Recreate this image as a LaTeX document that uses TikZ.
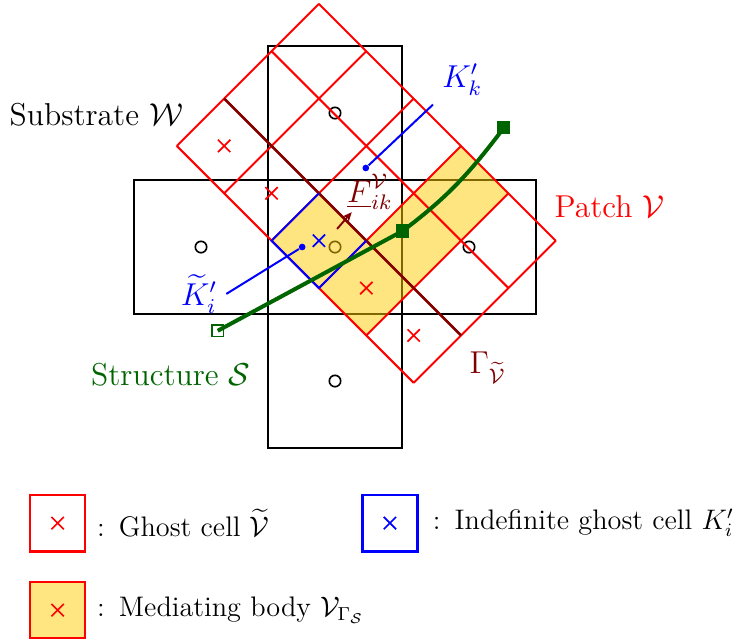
\documentclass[tikz,border=0pt]{standalone}
\usepackage{amsmath,amssymb}
\usepackage{xcolor}
\usepackage{tikz}
\usetikzlibrary{arrows.meta,positioning,calc,shapes.misc}
\definecolor{bodyyellow}{RGB}{255,204,0}
\definecolor{structgreen}{RGB}{0,100,0}
\definecolor{gammared}{RGB}{128,0,0}

\begin{document}
\begin{tikzpicture}[
    substrate/.style={draw=black, line width=1pt},
    centre/.style={circle, draw=black, line width=0.7pt, minimum size=0.17cm, inner sep=0pt},
    ghostmark/.style={cross out, draw=red, line width=0.7pt, minimum size=0.16cm, inner sep=0pt},
    indefmark/.style={ghostmark, draw=blue},
    patchgrid/.style={draw=red, line width=0.85pt},
    gammaline/.style={draw=gammared, line width=1.1pt},
    mediating/.style={fill=bodyyellow, fill opacity=0.5},
    leader/.style={draw=blue, line width=0.85pt},
    leaddot/.style={circle, fill=blue, minimum size=0.1cm, inner sep=0pt},
    structline/.style={draw=structgreen, line width=1.7pt},
    endmark/.style={rectangle, draw=structgreen, line width=0.8pt, minimum size=0.17cm, inner sep=0pt},
    tag/.style={font=\large, scale=1.12, transform shape},
    legendbox/.style={rectangle, line width=1.1pt, minimum width=0.82cm, minimum height=0.84cm},
    legendtext/.style={anchor=west, font=\large}
]
\useasboundingbox (-5,-5.836) rectangle (5.97,3.687);

\draw[substrate] (-1,-3) rectangle (1,3);
\draw[substrate] (-3,-1) rectangle (3,1);

\node[centre] (ctop) at (0,2) {};
\node[centre] (cleft) at (-2,0) {};
\node[centre] (cmid) at (0,0) {};
\node[centre] (cright) at (2,0) {};
\node[centre] (cbottom) at (0,-2) {};

\begin{scope}[shift={(-0.24,3.63)}, rotate=-45]
\fill[mediating] (3,0) -- (4,0) -- (4,-3) -- (2,-3) -- (2,-2) -- (3,-2) -- cycle;
\draw[patchgrid] (0,-3) grid (5,0);
\draw[gammaline] (0,-2) -- (5,-2);
\draw[leader] (3,-2) -- (3,-3) -- (2,-3) -- (2,-2);
\node[ghostmark] (g0) at (0.5,-2.5) {};
\node[ghostmark] (g1) at (1.5,-2.5) {};
\node[indefmark] (g2) at (2.5,-2.5) {};
\node[ghostmark] (g3) at (3.5,-2.5) {};
\node[ghostmark] (g4) at (4.5,-2.5) {};
\end{scope}

\node[tag] (substrate) at (-3.56,1.97) {Substrate $\mathcal{W}$};
\node[tag, text=red] (patch) at (4.1,0.6) {Patch $\mathcal{V}$};
\node[tag, text=structgreen] (structure) at (-2.45,-1.91) {Structure $\mathcal{S}$};
\node[tag, text=gammared] (gamma) at (2.28,-1.8) {$\Gamma_{\widetilde{\mathcal{V}}}$};

\node[tag, text=blue] (kk) at (1.9,2.5) {$K'_k$};
\node[leaddot] (dk) at (0.46,1.18) {};
\draw[leader] (dk) -- (kk.south west);

\node[tag, text=blue] (ki) at (-2.03,-0.7) {$\widetilde{K}'_i$};
\node[leaddot] (di) at (-0.49,0) {};
\draw[leader] (di) -- (ki.east);

\node[tag, text=gammared] (fik) at (0.52,0.82) {$\underline{F}^{\mathcal{V}}_{ik}$};
\coordinate (fbase) at (0.03,0.27);
\coordinate (ftip) at (0.25,0.52);
\draw[gammared, line width=0.8pt, -{Stealth[length=4pt,width=3.5pt]}] (fbase) -- (ftip);

\node[endmark] (s0) at (-1.75,-1.25) {};
\node[endmark, fill=structgreen] (s1) at (1.01,0.24) {};
\node[endmark, fill=structgreen] (s2) at (2.52,1.78) {};
\draw[structline] (s0.center) -- (s1.center) to[out=37,in=233] (s2.center);

\node[legendbox, draw=red] (lghost) at (-4.14,-4.12) {};
\node[ghostmark] (lghostx) at (lghost) {};
\node[legendtext, right=1pt of lghost] (tghost) {{:}\enspace Ghost cell $\widetilde{\mathcal{V}}$};

\node[legendbox, draw=blue] (lindef) at (0.82,-4.12) {};
\node[indefmark] (lindefx) at (lindef) {};
\node[legendtext, right=2.5pt of lindef] (tindef) {{:}\enspace Indefinite ghost cell $K'_i$};

\node[legendbox, draw=red, fill=bodyyellow!50] (lbody) at (-4.14,-5.42) {};
\node[ghostmark] (lbodyx) at (lbody) {};
\node[legendtext, right=1pt of lbody] (tbody) {{:}\enspace Mediating body $\mathcal{V}_{\Gamma_{\mathcal{S}}}$};
\end{tikzpicture}
\end{document}
